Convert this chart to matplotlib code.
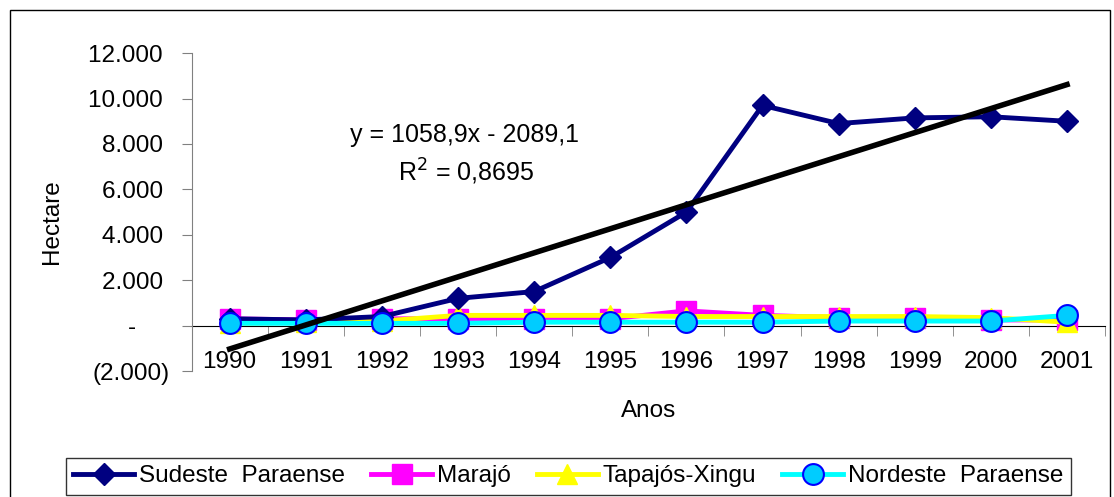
import matplotlib
matplotlib.use("Agg")
import matplotlib.pyplot as plt
from matplotlib.patches import Rectangle
from matplotlib.ticker import FuncFormatter, FixedLocator

plt.rcParams['font.family'] = ['Liberation Sans', 'DejaVu Sans']

anos = [1990, 1991, 1992, 1993, 1994, 1995, 1996, 1997, 1998, 1999, 2000, 2001]
sudeste = [300, 250, 400, 1200, 1500, 3000, 5000, 9700, 8900, 9150, 9200, 9000]
marajo = [300, 250, 300, 300, 300, 300, 650, 450, 350, 350, 250, 250]
tapajos = [100, 150, 200, 450, 450, 450, 400, 400, 400, 400, 350, 150]
nordeste = [100, 100, 100, 100, 150, 150, 150, 150, 200, 200, 200, 450]

# linear trend of Sudeste Paraense (coefficients as printed on the chart)
slope, intercept = 1058.9, -2089.1

x = list(range(1, len(anos) + 1))

fig = plt.figure(figsize=(11.14, 4.97), dpi=100)
ax = fig.add_axes([0.172, 0.2535, 0.82, 0.6395])

l1, = ax.plot(x, sudeste, color="#000080", lw=3.5, marker="D", ms=11, label="Sudeste  Paraense", zorder=4)
l2, = ax.plot(x, marajo, color="#FF00FF", lw=3.5, marker="s", ms=15, label="Marajó", zorder=3)
l3, = ax.plot(x, tapajos, color="#FFFF00", lw=3.5, marker="^", ms=14, label="Tapajós-Xingu", zorder=3)
l4, = ax.plot(x, nordeste, color="#00FFFF", lw=3.5, marker="o", ms=15, mfc="#00CCFF",
              mec="#0000FF", mew=1.5, label="Nordeste  Paraense", zorder=5)
trend = [slope * xi + intercept for xi in x]
ax.plot(x, trend, color="black", lw=4, zorder=6)

ax.text(4.09, 8390, "y = 1058,9x - 2089,1", fontsize=18, ha="center", va="center")
ax.text(4.1, 6760, "R$^2$ = 0,8695", fontsize=18, ha="center", va="center")

ax.set_xlim(0.5, 12.5)
ax.set_ylim(-2000, 12000)
ax.set_yticks(range(-2000, 12001, 2000))

def fmt(v, pos):
    if v == 0:
        return "-     "
    s = "{:,.0f}".format(abs(v)).replace(",", ".")
    return "(" + s + ")" if v < 0 else s + " "

ax.yaxis.set_major_formatter(FuncFormatter(fmt))
ax.set_xticks(x)
ax.set_xticklabels([str(a) for a in anos])
ax.xaxis.set_minor_locator(FixedLocator([i + 0.5 for i in range(0, 13)]))
ax.tick_params(axis="x", which="major", length=0, pad=18, labelsize=17.5)
ax.tick_params(axis="x", which="minor", length=7, direction="out", color="#808080")
ax.tick_params(axis="y", length=7, direction="out", labelsize=17.5, color="#808080", pad=9)

ax.spines["top"].set_visible(False)
ax.spines["right"].set_visible(False)
ax.spines["bottom"].set_position(("data", 0))
ax.spines["bottom"].set_zorder(2)
ax.spines["left"].set_color("#808080")

fig.text(0.047, 0.555, "Hectare", fontsize=17.5, ha="center", va="center", rotation=90)
fig.text(0.582, 0.173, "Anos", fontsize=17.5, ha="center", va="center")

leg = fig.legend(handles=[l1, l2, l3, l4], loc="upper left", bbox_to_anchor=(0.0592, 0.0785, 0.902, 0),
                 mode="expand", ncol=4, fontsize=17.5, frameon=True, fancybox=False,
                 edgecolor="black", handlelength=2.5, handletextpad=0.2, columnspacing=0.6,
                 borderaxespad=0, borderpad=0.3)
leg.get_frame().set_linewidth(1)

fig.patches.append(Rectangle((0.009, -0.05), 0.987, 1.03, transform=fig.transFigure,
                             fill=False, edgecolor="black", lw=1))

fig.savefig("out.png", dpi=100)
